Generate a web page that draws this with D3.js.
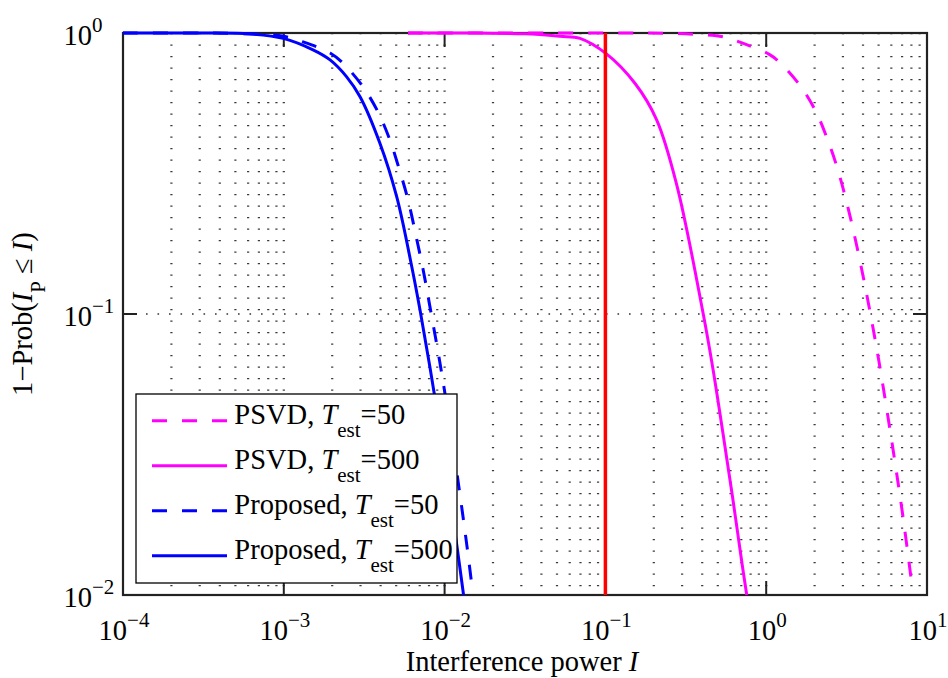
<!DOCTYPE html>
<html>
<head>
<meta charset="utf-8">
<script src="https://cdn.jsdelivr.net/npm/d3@7"></script>
<style>
  body { margin: 0; background: #fff; }
  text { font-family: "Liberation Serif", "Times New Roman", serif; fill: #000; }
</style>
</head>
<body>
<svg id="chart"></svg>
<script>
var width = 948;
var height = 678;
var margin = {left: 123, right: 21, top: 33, bottom: 83};

// values: interference power I vs 1 - Prob(I_P <= I)
var psvd50X = [5.92e-3, 0.1, 0.235, 0.361, 0.538, 0.721, 1.057, 1.247, 1.663, 2.061, 2.399, 2.767,
               3.170, 3.656, 4.111, 4.529, 5.012, 5.623, 6.310, 7.079, 8.035];
var psvd50Y = [1, 1, 0.998, 0.989, 0.970, 0.918, 0.836, 0.774, 0.638, 0.518, 0.420, 0.331,
               0.249, 0.175, 0.1265, 0.0946, 0.0684, 0.0457, 0.0299, 0.0191, 0.0110];

var psvd500X = [5.92e-3, 1.58e-2, 3.16e-2, 5.22e-2, 6.95e-2, 0.102, 0.153, 0.208, 0.277, 0.406,
                0.468, 0.537, 0.617, 0.708, 0.757];
var psvd500Y = [1, 0.999, 0.993, 0.973, 0.957, 0.841, 0.661, 0.492, 0.290, 0.100,
                0.0631, 0.0380, 0.0224, 0.0129, 0.0100];

var prop50X = [1e-4, 3.16e-4, 6.31e-4, 1.0e-3, 1.32e-3, 1.94e-3, 2.33e-3, 3.11e-3, 3.85e-3, 4.57e-3,
               5.13e-3, 5.92e-3, 6.73e-3, 7.35e-3, 8.11e-3, 9.33e-3, 1.072e-2, 1.230e-2, 1.380e-2, 1.472e-2];
var prop50Y = [1, 1, 0.991, 0.973, 0.929, 0.849, 0.782, 0.643, 0.524, 0.416,
               0.339, 0.255, 0.183, 0.144, 0.106, 0.0676, 0.0412, 0.0240, 0.0148, 0.0110];

var prop500X = [1e-4, 3.02e-4, 6.17e-4, 9.93e-4, 1.52e-3, 1.94e-3, 2.46e-3, 2.98e-3, 3.96e-3, 5.04e-3,
                6.10e-3, 7.03e-3, 8.59e-3, 1.035e-2, 1.19e-2, 1.312e-2];
var prop500Y = [1, 1, 0.993, 0.957, 0.871, 0.802, 0.698, 0.593, 0.405, 0.261,
                0.158, 0.1035, 0.0528, 0.0263, 0.0151, 0.0100];

var thresholdI = 0.1;
var xTicks = [1e-4, 1e-3, 1e-2, 1e-1, 1e0, 1e1];
var yTicks = [1e-2, 1e-1, 1e0];
var legendNames = ['PSVD, ', 'PSVD, ', 'Proposed, ', 'Proposed, '];
var legendT = ['=50', '=500', '=50', '=500'];

var series = [
    {x: psvd50X, y: psvd50Y, color: '#ff00ff', dashed: true},
    {x: psvd500X, y: psvd500Y, color: '#ff00ff', dashed: false},
    {x: prop50X, y: prop50Y, color: '#0000ff', dashed: true},
    {x: prop500X, y: prop500Y, color: '#0000ff', dashed: false}
];

// note: "top" is a read-only window global, so use other names
var plotL = margin.left, plotR = width - margin.right;
var plotT = margin.top, plotB = height - margin.bottom;

var x = d3.scaleLog().domain([1e-4, 10]).range([plotL, plotR]);
var y = d3.scaleLog().domain([1e-2, 1]).range([plotB, plotT]);

var svg = d3.select('#chart')
    .attr('width', width)
    .attr('height', height);

svg.append('rect')
    .attr('width', width)
    .attr('height', height)
    .attr('fill', '#fff');

// dotted grid: every minor + major decade step on x, only the 10^-1 line on y
var gridX = [];
for (let d = -4; d <= 0; d++) {
    for (let k = 1; k <= 9; k++) {
        let v = k * Math.pow(10, d);
        if (v > 1e-4) gridX.push(v);
    }
}

svg.append('g')
    .selectAll('line')
    .data(gridX)
    .enter()
    .append('line')
        .attr('x1', d => x(d))
        .attr('x2', d => x(d))
        .attr('y1', plotT)
        .attr('y2', plotB)
        .attr('stroke', '#3a3a3a')
        .attr('stroke-width', 2.2)
        .attr('stroke-dasharray', '1.3,10.2');

svg.append('g')
    .selectAll('line')
    .data([1e-1])
    .enter()
    .append('line')
        .attr('x1', plotL)
        .attr('x2', plotR)
        .attr('y1', d => y(d))
        .attr('y2', d => y(d))
        .attr('stroke', '#333')
        .attr('stroke-width', 1.6)
        .attr('stroke-dasharray', '1.6,9.9');

// axes box and inward ticks
var tickLen = 14;
var axisColor = '#222';

svg.append('rect')
    .attr('x', plotL)
    .attr('y', plotT)
    .attr('width', plotR - plotL)
    .attr('height', plotB - plotT)
    .attr('fill', 'none')
    .attr('stroke', axisColor)
    .attr('stroke-width', 2.2);

var ticks = svg.append('g')
    .attr('stroke', axisColor)
    .attr('stroke-width', 2);

xTicks.slice(1, -1).forEach(function(t) {
    ticks.append('line').attr('x1', x(t)).attr('x2', x(t)).attr('y1', plotB).attr('y2', plotB - tickLen);
    ticks.append('line').attr('x1', x(t)).attr('x2', x(t)).attr('y1', plotT).attr('y2', plotT + tickLen);
});
yTicks.slice(1, -1).forEach(function(t) {
    ticks.append('line').attr('x1', plotL).attr('x2', plotL + tickLen).attr('y1', y(t)).attr('y2', y(t));
    ticks.append('line').attr('x1', plotR).attr('x2', plotR - tickLen).attr('y1', y(t)).attr('y2', y(t));
});

function powerLabel(sel, t) {
    var e = Math.round(Math.log10(t));
    sel.append('tspan').text('10');
    sel.append('tspan')
        .attr('font-size', 21)
        .attr('dy', -12.7)
        .text(e < 0 ? '\u2212' + (-e) : '' + e);
}

xTicks.forEach(function(t) {
    var lab = svg.append('text')
        .attr('x', x(t) + 1)
        .attr('y', plotB + 45)
        .attr('text-anchor', 'middle')
        .attr('font-size', 28.5);
    powerLabel(lab, t);
});

yTicks.forEach(function(t) {
    var lab = svg.append('text')
        .attr('x', 63.5)
        .attr('y', y(t) + 11.7)
        .attr('font-size', 28.5);
    powerLabel(lab, t);
});

// axis titles
var xTitle = svg.append('text')
    .attr('x', (plotL + plotR) / 2 - 3)
    .attr('y', 671)
    .attr('text-anchor', 'middle')
    .attr('font-size', 28.5);
xTitle.append('tspan').text('Interference power ');
xTitle.append('tspan').attr('font-style', 'italic').text('I');

var yTitle = svg.append('text')
    .attr('transform', 'translate(32,' + ((plotT + plotB) / 2) + ') rotate(-90)')
    .attr('text-anchor', 'middle')
    .attr('font-size', 28.5);
yTitle.append('tspan').text('1\u2212Prob(');
yTitle.append('tspan').attr('font-style', 'italic').text('I');
yTitle.append('tspan').attr('font-size', 21).attr('dy', 13).text('P');
yTitle.append('tspan').attr('dy', -13).text(' \u2264 ');
yTitle.append('tspan').attr('font-style', 'italic').text('I');
yTitle.append('tspan').text(')');

// curves
var line = d3.line()
    .x(d => x(d[0]))
    .y(d => y(d[1]))
    .curve(d3.curveCatmullRom.alpha(0.5));

svg.append('g')
    .selectAll('path')
    .data(series)
    .enter()
    .append('path')
        .attr('d', d => line(d3.zip(d.x, d.y)))
        .attr('fill', 'none')
        .attr('stroke', d => d.color)
        .attr('stroke-width', 3)
        .attr('stroke-dasharray', d => d.dashed ? '15,15' : null);

// threshold
svg.append('line')
    .attr('x1', x(thresholdI))
    .attr('x2', x(thresholdI))
    .attr('y1', y(1))
    .attr('y2', y(1e-2))
    .attr('stroke', '#ff0000')
    .attr('stroke-width', 3.5);

// legend
var legend = svg.append('g');
legend.append('rect')
    .attr('x', 136)
    .attr('y', 394)
    .attr('width', 321)
    .attr('height', 189)
    .attr('fill', '#fff')
    .attr('stroke', '#000')
    .attr('stroke-width', 1.3);

series.forEach(function(s, i) {
    var rowY = 424.3 + 45 * i;
    legend.append('line')
        .attr('x1', 152)
        .attr('x2', 227)
        .attr('y1', rowY - 3.6)
        .attr('y2', rowY - 3.6)
        .attr('stroke', s.color)
        .attr('stroke-width', 3)
        .attr('stroke-dasharray', s.dashed ? '15,15' : null);
    var t = legend.append('text')
        .attr('x', 234.3)
        .attr('y', rowY)
        .attr('font-size', 28.5);
    t.append('tspan').text(legendNames[i]);
    t.append('tspan').attr('font-style', 'italic').text('T');
    t.append('tspan').attr('font-size', 21).attr('dy', 12.4).text('est');
    t.append('tspan').attr('dy', -12.4).text(legendT[i]);
});
</script>
</body>
</html>
